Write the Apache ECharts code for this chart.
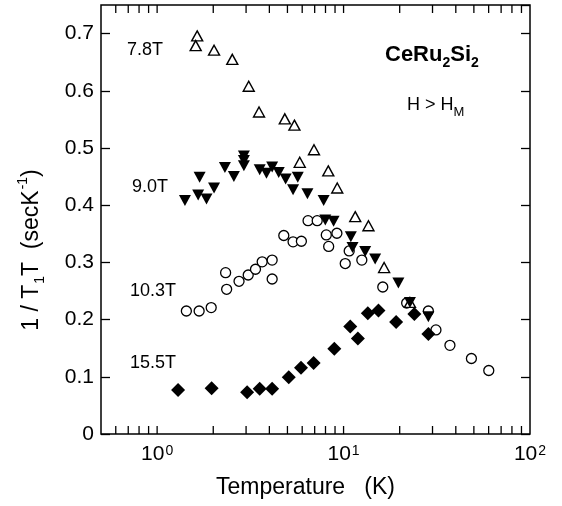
<!DOCTYPE html>
<html>
<head>
<meta charset="utf-8">
<script src="https://cdn.jsdelivr.net/npm/echarts@6/dist/echarts.min.js"></script>
<style>
  html, body { margin: 0; padding: 0; background: #fff; }
  #chart { width: 562px; height: 506px; }
</style>
</head>
<body>
<div id="chart"></div>
<script>
// temperatures (K) and 1/T1T (secK^-1), one pair of arrays per field
const T_78 = [1.64, 1.61, 2.02, 2.53, 3.10, 3.52, 4.84, 5.45, 5.82, 6.94, 8.28, 9.25, 11.55, 13.6, 16.5, 22.7];
const V_78 = [0.696, 0.679, 0.671, 0.655, 0.608, 0.563, 0.551, 0.540, 0.475, 0.497, 0.460, 0.430, 0.380, 0.364, 0.291, 0.230];

const T_90 = [1.41, 1.66, 1.84, 1.69, 2.02, 2.31, 2.58, 2.92, 2.92, 2.92, 3.55, 3.86, 4.14, 4.49, 4.89, 5.68, 5.36, 6.40, 7.82, 7.98, 8.84, 10.94, 11.17, 13.06, 14.77, 19.68, 22.7, 28.5];
const V_90 = [0.408, 0.418, 0.411, 0.449, 0.430, 0.466, 0.450, 0.486, 0.478, 0.469, 0.462, 0.456, 0.467, 0.457, 0.446, 0.449, 0.427, 0.420, 0.408, 0.374, 0.372, 0.345, 0.326, 0.319, 0.306, 0.264, 0.230, 0.205];

const T_103 = [1.435, 1.68, 1.95, 2.33, 2.36, 2.75, 3.08, 3.37, 3.66, 4.14, 4.14, 4.78, 5.36, 5.94, 6.45, 7.22, 8.08, 8.32, 9.21, 10.21, 10.72, 12.53, 16.23, 21.8, 28.5, 31.3, 37.2, 48.5, 60.1];
const V_103 = [0.215, 0.215, 0.221, 0.282, 0.253, 0.267, 0.278, 0.288, 0.301, 0.304, 0.271, 0.347, 0.336, 0.337, 0.373, 0.373, 0.348, 0.328, 0.351, 0.298, 0.320, 0.304, 0.257, 0.229, 0.215, 0.182, 0.155, 0.132, 0.111];

const T_155 = [1.295, 1.96, 3.04, 3.55, 4.14, 5.08, 5.91, 6.91, 8.92, 10.86, 11.93, 13.49, 15.39, 19.14, 23.97, 28.5];
const V_155 = [0.077, 0.080, 0.073, 0.079, 0.079, 0.099, 0.116, 0.124, 0.149, 0.188, 0.167, 0.211, 0.216, 0.196, 0.210, 0.175];

// axis ranges and log ticks
const X_MIN = 0.5, X_MAX = 100;
const Y_MIN = 0, Y_MAX = 0.75, Y_STEP = 0.1;
const X_TICKS = [0.6, 0.7, 0.8, 0.9, 1, 2, 3, 4, 5, 6, 7, 8, 9, 10, 20, 30, 40, 50, 60, 70, 80, 90];

const FONT = '"Liberation Sans", Arial, Helvetica, sans-serif';

const pairs = (xs, ys) => xs.map((x, i) => [x, ys[i]]);

const chart = echarts.init(document.getElementById('chart'));

// log ticks on bottom and top edges, placed through the x scale
const tickSeries = {
  type: 'custom',
  silent: true,
  z: 10,
  data: X_TICKS.map(t => [t, Y_MIN]),
  renderItem: (params, api) => {
    const v = api.value(0);
    const b = api.coord([v, Y_MIN]);
    const t = api.coord([v, Y_MAX]);
    const st = { stroke: '#000', lineWidth: 1.3 };
    return {
      type: 'group',
      children: [
        { type: 'line', shape: { x1: b[0], y1: b[1], x2: b[0], y2: b[1] - 8 }, style: st },
        { type: 'line', shape: { x1: t[0], y1: t[1], x2: t[0], y2: t[1] + 8 }, style: st }
      ]
    };
  }
};

const option = {
  animation: false,
  backgroundColor: '#fff',
  textStyle: { fontFamily: FONT, color: '#000' },
  grid: {
    left: 101, right: 32, top: 5, bottom: 72,
    outerBoundsMode: 'none',
    show: true, borderColor: '#000', borderWidth: 1.5, backgroundColor: 'transparent'
  },
  xAxis: {
    type: 'log',
    logBase: 10,
    min: X_MIN,
    max: X_MAX,
    axisLine: { show: false },
    axisTick: { show: false },
    splitLine: { show: false },
    axisLabel: {
      margin: 10,
      color: '#000',
      formatter: v => {
        const e = Math.round(Math.log10(v));
        if (Math.abs(Math.log10(v) - e) > 1e-6) return '';
        return '{b|10}{s|' + e + '}';
      },
      rich: {
        b: { fontSize: 21, fontFamily: FONT, color: '#000' },
        s: { fontSize: 14, fontFamily: FONT, color: '#000', verticalAlign: 'top', padding: [0, 0, 6, 1] }
      }
    },
    name: 'Temperature   (K)',
    nameLocation: 'middle',
    nameGap: 42,
    nameTextStyle: { fontSize: 23, fontFamily: FONT, color: '#000', padding: [0, 20, 0, 0] }
  },
  yAxis: [
    {
      type: 'value',
      min: Y_MIN, max: Y_MAX, interval: Y_STEP,
      axisLine: { show: false },
      axisTick: { show: true, inside: true, length: 9, lineStyle: { color: '#000', width: 1.3 } },
      splitLine: { show: false },
      axisLabel: { showMaxLabel: false, margin: 7, fontSize: 21, color: '#000', fontFamily: FONT }
    },
    {
      type: 'value',
      position: 'right',
      min: Y_MIN, max: Y_MAX, interval: Y_STEP,
      axisLine: { show: false },
      axisTick: { show: true, inside: true, length: 9, lineStyle: { color: '#000', width: 1.3 } },
      splitLine: { show: false },
      axisLabel: { show: false }
    }
  ],
  graphic: [
    {
      type: 'text', x: 32, y: 250, rotation: Math.PI / 2,
      style: {
        text: '{m|1 / T}{sub|1}{m|T  (secK}{sup|-1}{m|)}',
        font: '23px ' + FONT, fill: '#000', align: 'center', verticalAlign: 'middle',
        rich: {
          m: { fontSize: 23, fontFamily: FONT, verticalAlign: 'middle' },
          sub: { fontSize: 14, fontFamily: FONT, verticalAlign: 'bottom', padding: [17, 0, 0, 1] },
          sup: { fontSize: 14, fontFamily: FONT, verticalAlign: 'top', padding: [0, 0, 17, 1] }
        }
      }
    },
    { type: 'text', x: 127, y: 50, style: { text: '7.8T', font: '18px ' + FONT, fill: '#000', verticalAlign: 'middle' } },
    { type: 'text', x: 132, y: 187, style: { text: '9.0T', font: '18px ' + FONT, fill: '#000', verticalAlign: 'middle' } },
    { type: 'text', x: 130, y: 291, style: { text: '10.3T', font: '18px ' + FONT, fill: '#000', verticalAlign: 'middle' } },
    { type: 'text', x: 130, y: 363, style: { text: '15.5T', font: '18px ' + FONT, fill: '#000', verticalAlign: 'middle' } },
    {
      type: 'text', x: 385, y: 44,
      style: {
        text: '{m|CeRu}{s|2}{m|Si}{s|2}',
        font: 'bold 22px ' + FONT, fill: '#000', verticalAlign: 'top',
        rich: {
          m: { fontSize: 22, fontWeight: 'bold', fontFamily: FONT, verticalAlign: 'top' },
          s: { fontSize: 14, fontWeight: 'bold', fontFamily: FONT, verticalAlign: 'bottom', padding: [12, 0, 0, 0] }
        }
      }
    },
    {
      type: 'text', x: 407, y: 96,
      style: {
        text: '{m|H > H}{s|M}',
        font: '18px ' + FONT, fill: '#000', verticalAlign: 'top',
        rich: {
          m: { fontSize: 18, fontFamily: FONT, verticalAlign: 'top' },
          s: { fontSize: 13, fontFamily: FONT, verticalAlign: 'bottom', padding: [10, 0, 0, 0] }
        }
      }
    }
  ],
  series: [
    {
      name: '10.3T', type: 'scatter', data: pairs(T_103, V_103),
      symbol: 'circle', symbolSize: 10,
      itemStyle: { color: '#fff', borderColor: '#000', borderWidth: 1.3, opacity: 1 }
    },
    {
      name: '7.8T', type: 'scatter', data: pairs(T_78, V_78),
      symbol: 'triangle', symbolSize: [11, 10],
      itemStyle: { color: '#fff', borderColor: '#000', borderWidth: 1.4, opacity: 1 }
    },
    {
      name: '9.0T', type: 'scatter', data: pairs(T_90, V_90),
      symbol: 'triangle', symbolRotate: 180, symbolSize: [12, 11],
      itemStyle: { color: '#000', opacity: 1 }
    },
    {
      name: '15.5T', type: 'scatter', data: pairs(T_155, V_155),
      symbol: 'diamond', symbolSize: 14,
      itemStyle: { color: '#000', opacity: 1 }
    },
    tickSeries
  ]
};

chart.setOption(option);
</script>
</body>
</html>
